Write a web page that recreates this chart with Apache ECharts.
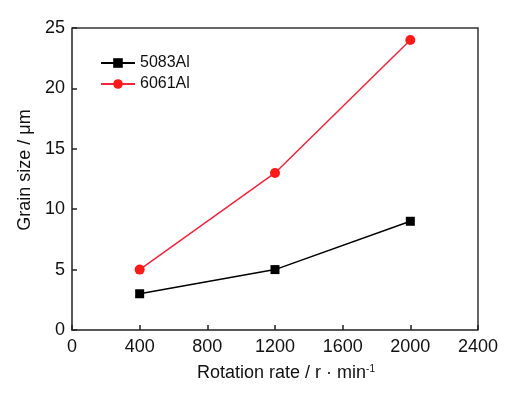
<!DOCTYPE html>
<html>
<head>
<meta charset="utf-8">
<script src="https://cdn.jsdelivr.net/npm/echarts@6/dist/echarts.min.js"></script>
<style>
    html, body { margin: 0; padding: 0; background: #fff; }
    #chart { width: 505px; height: 396px; }
</style>
</head>
<body>
<div id="chart"></div>
<script>
// values
var rotationRate = [400, 1200, 2000];
var grain5083 = [3, 5, 9];
var grain6061 = [5, 13, 24];
var seriesNames = ['5083Al', '6061Al'];

function pairs(xs, ys) {
    return xs.map(function (x, i) { return [x, ys[i]]; });
}

var font = 'Liberation Sans, Arial, sans-serif';
var myChart = echarts.init(document.getElementById('chart'));

var option = {
    animation: false,
    backgroundColor: '#fff',
    textStyle: { fontFamily: font },
    grid: { left: 72, right: 27, top: 28, bottom: 66 },
    legend: {
        data: seriesNames,
        orient: 'vertical',
        left: 95,
        top: 50,
        itemWidth: 34,
        itemHeight: 12,
        itemGap: 5,
        textStyle: { fontSize: 16, color: '#111', fontFamily: font }
    },
    xAxis: {
        type: 'value',
        min: 0,
        max: 2400,
        interval: 400,
        name: 'Rotation rate / r · min{sup|-1}',
        nameLocation: 'middle',
        nameGap: 34,
        nameTextStyle: {
            fontSize: 18, color: '#111', fontFamily: font, padding: [0, 0, 0, 22],
            rich: { sup: { fontSize: 10, verticalAlign: 'top', padding: [0, 0, 9, 0], color: '#111' } }
        },
        axisLine: { lineStyle: { color: '#222', width: 1.5 } },
        axisTick: { inside: true, length: 5, lineStyle: { color: '#222', width: 1.5 } },
        axisLabel: { fontSize: 18, color: '#111', margin: 8, formatter: function (v) { return String(v); } },
        splitLine: { show: false }
    },
    yAxis: {
        type: 'value',
        min: 0,
        max: 25,
        interval: 5,
        name: 'Grain size / μm',
        nameLocation: 'middle',
        nameGap: 37,
        nameTextStyle: { fontSize: 18, color: '#111', fontFamily: font, padding: [0, 0, 0, 18] },
        axisLine: { show: true, lineStyle: { color: '#222', width: 1.5 } },
        axisTick: { show: true, inside: true, length: 5, lineStyle: { color: '#222', width: 1.5 } },
        axisLabel: { fontSize: 18, color: '#111', margin: 7 },
        splitLine: { show: false }
    },
    graphic: [
        {
            type: 'polyline',
            shape: { points: [[72, 28], [478, 28], [478, 330]] },
            style: { stroke: '#333', lineWidth: 1.5, fill: null }
        }
    ],
    series: [
        {
            name: seriesNames[0],
            type: 'line',
            data: pairs(rotationRate, grain5083),
            symbol: 'rect',
            symbolSize: 9,
            color: '#000',
            lineStyle: { width: 1.5, color: '#000' },
            itemStyle: { color: '#000' }
        },
        {
            name: seriesNames[1],
            type: 'line',
            data: pairs(rotationRate, grain6061),
            symbol: 'circle',
            symbolSize: 10,
            color: '#ff1a1a',
            lineStyle: { width: 1.5, color: '#f0243c' },
            itemStyle: { color: '#ff1a1a' }
        }
    ]
};

myChart.setOption(option);
window.addEventListener('resize', myChart.resize);
</script>
</body>
</html>
